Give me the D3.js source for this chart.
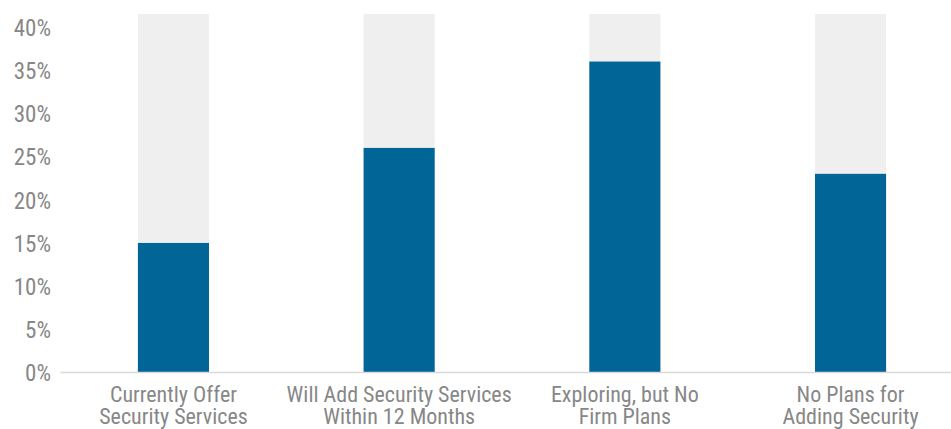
<!DOCTYPE html>
<html>
<head>
<meta charset="utf-8">
<script src="https://cdn.jsdelivr.net/npm/d3@7"></script>
<style>
  html, body { margin: 0; padding: 0; background: #ffffff; }
  svg { display: block; }
  .tick text, .cat-label { font-family: "Liberation Sans Narrow", "Arial Narrow", "Roboto Condensed", sans-serif; fill: #878787; }
</style>
</head>
<body>
<svg id="chart" width="951" height="429"></svg>
<script>
// Survey responses: share of respondents per security-services plan
const categories = [
  ["Currently Offer", "Security Services"],
  ["Will Add Security Services", "Within 12 Months"],
  ["Exploring, but No", "Firm Plans"],
  ["No Plans for", "Adding Security"]
];
const values = [15, 26, 36, 23];
const backdrop = [100, 100, 100, 100];
const yTicks = [0, 5, 10, 15, 20, 25, 30, 35, 40];

const svg = d3.select("#chart");
const W = 951, H = 429;
const plot = { left: 60.6, right: 963.4, top: 14, bottom: 372.5 };

const x = d3.scaleBand()
  .domain(d3.range(categories.length))
  .range([plot.left, plot.right])
  .paddingInner(0.685)
  .paddingOuter(0.3425);

const y = d3.scaleLinear()
  .domain([0, 40])
  .range([plot.bottom, 27]);

svg.append("defs").append("clipPath").attr("id", "plot-clip")
  .append("rect")
  .attr("x", 0).attr("y", plot.top)
  .attr("width", W).attr("height", plot.bottom - plot.top);

const bars = svg.append("g").attr("clip-path", "url(#plot-clip)");

// light full-height track behind each bar
bars.selectAll("rect.track")
  .data(backdrop)
  .join("rect")
  .attr("class", "track")
  .attr("x", (d, i) => x(i))
  .attr("width", x.bandwidth())
  .attr("y", d => y(d))
  .attr("height", d => y(0) - y(d))
  .attr("fill", "#efefef");

bars.selectAll("rect.value")
  .data(values)
  .join("rect")
  .attr("class", "value")
  .attr("x", (d, i) => x(i))
  .attr("width", x.bandwidth())
  .attr("y", d => y(d))
  .attr("height", d => y(0) - y(d))
  .attr("fill", "#026597");

// y axis labels
const yAxis = d3.axisLeft(y)
  .tickValues(yTicks)
  .tickFormat(d => d + "%")
  .tickSize(0)
  .tickPadding(0);

const yg = svg.append("g")
  .attr("transform", `translate(51,0)`)
  .call(yAxis);
yg.select(".domain").remove();
yg.selectAll(".tick text").attr("font-size", 23).attr("dy", "0.36em");

// baseline
svg.append("line")
  .attr("x1", plot.left).attr("x2", W)
  .attr("y1", y(0)).attr("y2", y(0))
  .attr("stroke", "#d9d9d9")
  .attr("stroke-width", 1.5);

// category labels, two lines each
const labels = svg.append("g");
categories.forEach((lines, i) => {
  const t = labels.append("text")
    .attr("class", "cat-label")
    .attr("text-anchor", "middle")
    .attr("font-size", 22)
    .attr("x", x(i) + x.bandwidth() / 2)
    .attr("y", 402);
  lines.forEach((ln, k) => {
    t.append("tspan")
      .attr("x", x(i) + x.bandwidth() / 2)
      .attr("dy", k === 0 ? 0 : 22)
      .text(ln);
  });
});
</script>
</body>
</html>
